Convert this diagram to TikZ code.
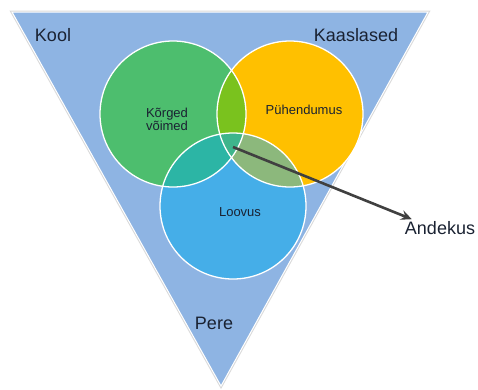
\documentclass[tikz,border=0pt]{standalone}
\usepackage{fontspec}
\setmainfont{Liberation Sans}
\usetikzlibrary{arrows.meta}
\definecolor{tri}{HTML}{8EB4E3}
\definecolor{cg}{HTML}{4DBE6E}
\definecolor{co}{HTML}{FFC000}
\definecolor{cb}{HTML}{45AEE8}
\definecolor{cgo}{HTML}{7AC21E}
\definecolor{cgb}{HTML}{2CB5A5}
\definecolor{cob}{HTML}{8CB87C}
\definecolor{cgob}{HTML}{3EB58C}
\definecolor{txt}{HTML}{1A2232}
\definecolor{arr}{HTML}{404040}
\tikzset{
  outer/.style={font=\fontsize{18}{20}\selectfont, text=txt, inner sep=0pt},
  inner/.style={font=\fontsize{13}{14}\selectfont, text=txt, inner sep=0pt, align=center},
  ring/.style={draw=white, line width=1.3pt},
}
\begin{document}
\begin{tikzpicture}[x=1pt,y=-1pt]
\useasboundingbox (0,0) rectangle (478,389);
% triangle
\coordinate (tl) at (12,12);
\coordinate (tr) at (428,12);
\coordinate (bt) at (221,386);
\draw[line width=3pt, color=black!15, line join=miter] (tl) -- (tr) -- (bt) -- cycle;
\filldraw[fill=tri, draw=white, line width=1pt] (tl) -- (tr) -- (bt) -- cycle;
% circles
\coordinate (G) at (173,114);
\coordinate (O) at (290,114);
\coordinate (B) at (233,206);
\def\rr{73}
\fill[cg] (G) circle (\rr);
\fill[co] (O) circle (\rr);
\fill[cb] (B) circle (\rr);
\begin{scope}
  \clip (G) circle (\rr);
  \fill[cgo] (O) circle (\rr);
  \fill[cgb] (B) circle (\rr);
\end{scope}
\begin{scope}
  \clip (O) circle (\rr);
  \fill[cob] (B) circle (\rr);
  \clip (G) circle (\rr);
  \fill[cgob] (B) circle (\rr);
\end{scope}
\draw[ring] (G) circle (\rr);
\draw[ring] (O) circle (\rr);
\draw[ring] (B) circle (\rr);
% labels
\node[outer] (kool) at (53,35) {Kool};
\node[outer] (kaaslased) at (356,35) {Kaaslased};
\node[outer] (pere) at (214,323) {Pere};
\node[outer] (andekus) at (440,228) {Andekus};
\node[inner] (korged) at (167,119) {Kõrged\\[-1pt]võimed};
\node[inner] (puhendumus) at (304,110) {Pühendumus};
\node[inner] (loovus) at (240,212) {Loovus};
% arrow
\coordinate (start) at (233,147);
\coordinate (tip) at ([xshift=7pt,yshift=2pt]andekus.north west);
\draw[arr, line width=2.6pt, -{Stealth[length=11pt,width=10pt,inset=4pt]}] (start) -- (tip);
\end{tikzpicture}
\end{document}
